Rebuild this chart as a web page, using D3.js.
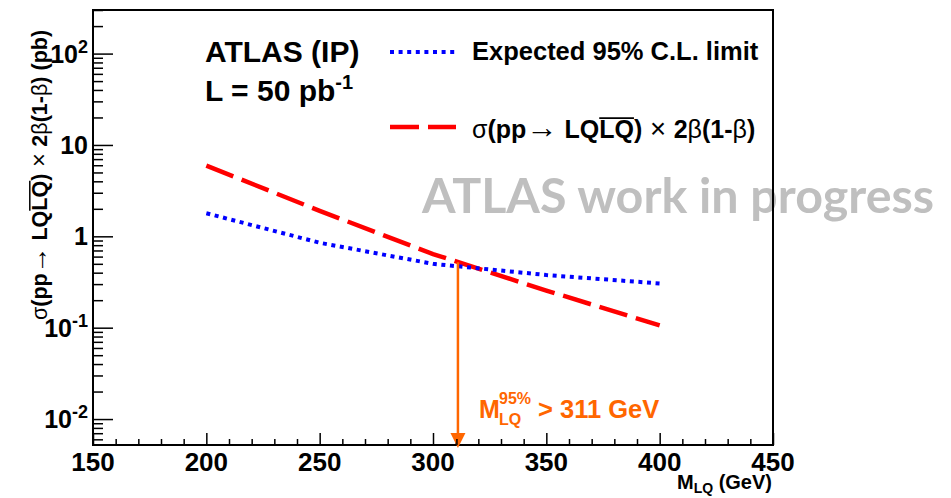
<!DOCTYPE html>
<html>
<head>
<meta charset="utf-8">
<script src="https://cdn.jsdelivr.net/npm/d3@7"></script>
<style>
  html, body { margin: 0; padding: 0; background: #fff; }
  svg { display: block; }
  text { font-family: "Liberation Sans", Arial, Helvetica, sans-serif; }
</style>
</head>
<body>
<svg id="chart" width="951" height="498"></svg>
<script>
// Leptoquark pair production: expected limit vs. theory cross-section
const masses = [200, 250, 300, 350, 400];                 // M_LQ (GeV)
const expectedLimit = [1.79, 0.85, 0.50, 0.377, 0.305];   // pb
const theoryXsec = [5.95, 1.90, 0.64, 0.255, 0.106];      // pb
const xTicks = [150, 200, 250, 300, 350, 400, 450];
const yMajorExp = [-2, -1, 0, 1, 2];
const limitMass = 311;        // GeV, crossing of the two curves
const limitXsec = 0.52;       // pb, cross-section at the crossing

const svg = d3.select("#chart");
const plot = { left: 93, right: 773, top: 10, bottom: 445 };

const x = d3.scaleLinear().domain([150, 450]).range([plot.left, plot.right]);
const y = d3.scaleLog().domain([0.0052, 300]).range([plot.bottom, plot.top]);

// watermark
svg.append("text")
  .attr("x", 422).attr("y", 213)
  .attr("textLength", 512).attr("lengthAdjust", "spacingAndGlyphs")
  .style("font-family", "Lato, 'Open Sans', sans-serif")
  .style("font-weight", "bold").style("font-size", "48px")
  .attr("fill", "#bfbfbf")
  .text("ATLAS work in progress");

// curves
const line = d3.line().x(d => x(d[0])).y(d => y(d[1]));
svg.append("path")
  .datum(masses.map((m, i) => [m, theoryXsec[i]]))
  .attr("d", line).attr("fill", "none")
  .attr("stroke", "#ff0000").attr("stroke-width", 4.5)
  .attr("stroke-dasharray", "29,9");
svg.append("path")
  .datum(masses.map((m, i) => [m, expectedLimit[i]]))
  .attr("d", line).attr("fill", "none")
  .attr("stroke", "#0000ff").attr("stroke-width", 4)
  .attr("stroke-dasharray", "4,4.6");

// frame
svg.append("rect")
  .attr("x", plot.left).attr("y", plot.top)
  .attr("width", plot.right - plot.left).attr("height", plot.bottom - plot.top)
  .attr("fill", "none").attr("stroke", "#000").attr("stroke-width", 2);

// x axis ticks
const xMinor = d3.range(150, 451, 10).filter(v => v % 50 !== 0);
const xAxisMajor = d3.axisBottom(x).tickValues(xTicks).tickSize(-12).tickFormat("");
const xAxisMinor = d3.axisBottom(x).tickValues(xMinor).tickSize(-6).tickFormat("");
[xAxisMajor, xAxisMinor].forEach(ax => {
  const g = svg.append("g").attr("transform", `translate(0,${plot.bottom})`).call(ax);
  g.select(".domain").remove();
  g.selectAll("line").attr("stroke", "#000").attr("stroke-width", 1.5);
});
svg.append("g").selectAll("text").data(xTicks).join("text")
  .attr("x", d => x(d)).attr("y", 471)
  .attr("text-anchor", "middle")
  .style("font-weight", "bold").style("font-size", "26px")
  .text(d => d);

// y axis ticks
const yMajor = yMajorExp.map(e => Math.pow(10, e));
const yMinor = [];
for (let e = -3; e <= 2; e++) for (let k = 2; k <= 9; k++) {
  const v = k * Math.pow(10, e);
  if (v >= y.domain()[0] && v <= y.domain()[1]) yMinor.push(v);
}
const yAxisMajor = d3.axisLeft(y).tickValues(yMajor).tickSize(-20).tickFormat("");
const yAxisMinor = d3.axisLeft(y).tickValues(yMinor).tickSize(-10).tickFormat("");
[yAxisMajor, yAxisMinor].forEach(ax => {
  const g = svg.append("g").attr("transform", `translate(${plot.left},0)`).call(ax);
  g.select(".domain").remove();
  g.selectAll("line").attr("stroke", "#000").attr("stroke-width", 1.5);
});
const yLab = svg.append("g").selectAll("text").data(yMajorExp).join("text")
  .attr("x", 88).attr("y", d => y(Math.pow(10, d)) + 9)
  .attr("text-anchor", "end")
  .style("font-weight", "bold").style("font-size", "25px");
yLab.each(function(e) {
  const t = d3.select(this);
  if (e === 0) { t.text("1"); return; }
  if (e === 1) { t.text("10"); return; }
  t.append("tspan").text("10");
  t.append("tspan").attr("dy", -10).style("font-size", "18px").text(String(e));
});

// rich text helper: segments [text, weight, overline?, size?]
function richText(parent, segs, size, anchor) {
  const t = parent.append("text").attr("x", 0).attr("y", 0)
    .attr("text-anchor", anchor).style("font-size", size + "px");
  const over = [];
  let idx = 0;
  segs.forEach(s => {
    const ts = t.append("tspan").style("font-weight", s[1]).text(s[0]);
    if (s[3]) ts.style("font-size", s[3] + "px");
    if (s[2]) over.push([idx, s[0].length]);
    idx += s[0].length;
  });
  const node = t.node();
  over.forEach(([i, n]) => {
    const x0 = node.getStartPositionOfChar(i).x;
    const x1 = node.getEndPositionOfChar(i + n - 1).x;
    parent.append("line")
      .attr("x1", x0).attr("x2", x1)
      .attr("y1", -size * 0.8).attr("y2", -size * 0.8)
      .attr("stroke", "#000").attr("stroke-width", size * 0.07);
  });
  return t;
}

function xsecLabel(size) {
  return [
    ["σ", "normal"], ["(pp", "bold"], ["→", "normal", false, size * 1.25], [" LQ", "bold"],
    ["LQ", "bold", true], [")", "bold"], [" × ", "normal", false, size * 1.1], ["2", "bold"],
    ["β", "normal"], ["(1-", "bold"], ["β", "normal"], [")", "bold"]
  ];
}

// y title
const yTitle = svg.append("g").attr("transform", "translate(47,175) rotate(-90)");
richText(yTitle, xsecLabel(21.5).concat([[" (pb)", "bold"]]), 21.5, "middle");

// x title
const xTitle = svg.append("text").attr("x", 772).attr("y", 489)
  .attr("text-anchor", "end").style("font-weight", "bold").style("font-size", "20px");
xTitle.append("tspan").text("M");
xTitle.append("tspan").attr("dy", 4).style("font-size", "14px").text("LQ");
xTitle.append("tspan").attr("dy", -4).text(" (GeV)");

// ATLAS label
svg.append("text").attr("x", 205).attr("y", 62)
  .style("font-weight", "bold").style("font-size", "30px").text("ATLAS (IP)");
const lumi = svg.append("text").attr("x", 205).attr("y", 101)
  .style("font-weight", "bold").style("font-size", "30px");
lumi.append("tspan").text("L = 50 pb");
lumi.append("tspan").attr("dy", -12).style("font-size", "20px").text("-1");

// legend
svg.append("line").attr("x1", 390).attr("x2", 456).attr("y1", 52).attr("y2", 52)
  .attr("stroke", "#0000ff").attr("stroke-width", 4).attr("stroke-dasharray", "4,4.6");
svg.append("text").attr("x", 472).attr("y", 60)
  .style("font-weight", "bold").style("font-size", "25.5px")
  .text("Expected 95% C.L. limit");
svg.append("line").attr("x1", 390).attr("x2", 456).attr("y1", 127).attr("y2", 127)
  .attr("stroke", "#ff0000").attr("stroke-width", 4.5).attr("stroke-dasharray", "29,9");
const legX = svg.append("g").attr("transform", "translate(472,138)");
richText(legX, xsecLabel(25), 25, "start");

// limit arrow
const orange = "#ff6600";
const ax0 = x(limitMass);
const tipY = plot.bottom + 3;
svg.append("line").attr("x1", ax0).attr("x2", ax0)
  .attr("y1", y(limitXsec)).attr("y2", tipY - 12)
  .attr("stroke", orange).attr("stroke-width", 2.5);
svg.append("path")
  .attr("d", `M${ax0 - 7.5},${tipY - 15} L${ax0 + 7.5},${tipY - 15} L${ax0},${tipY} Z`)
  .attr("fill", orange);
svg.append("line").attr("x1", ax0 - 1).attr("x2", ax0 - 1)
  .attr("y1", plot.bottom - 6).attr("y2", plot.bottom)
  .attr("stroke", "#000").attr("stroke-width", 1.5);

const ann = svg.append("g").style("font-weight", "bold").attr("fill", orange);
ann.append("text").attr("x", 479).attr("y", 418).style("font-size", "25px").text("M");
ann.append("text").attr("x", 499).attr("y", 404).style("font-size", "16px").text("95%");
ann.append("text").attr("x", 499).attr("y", 425).style("font-size", "16px").text("LQ");
ann.append("text").attr("x", 538).attr("y", 418).style("font-size", "25.5px").text("> 311 GeV");
</script>
</body>
</html>
